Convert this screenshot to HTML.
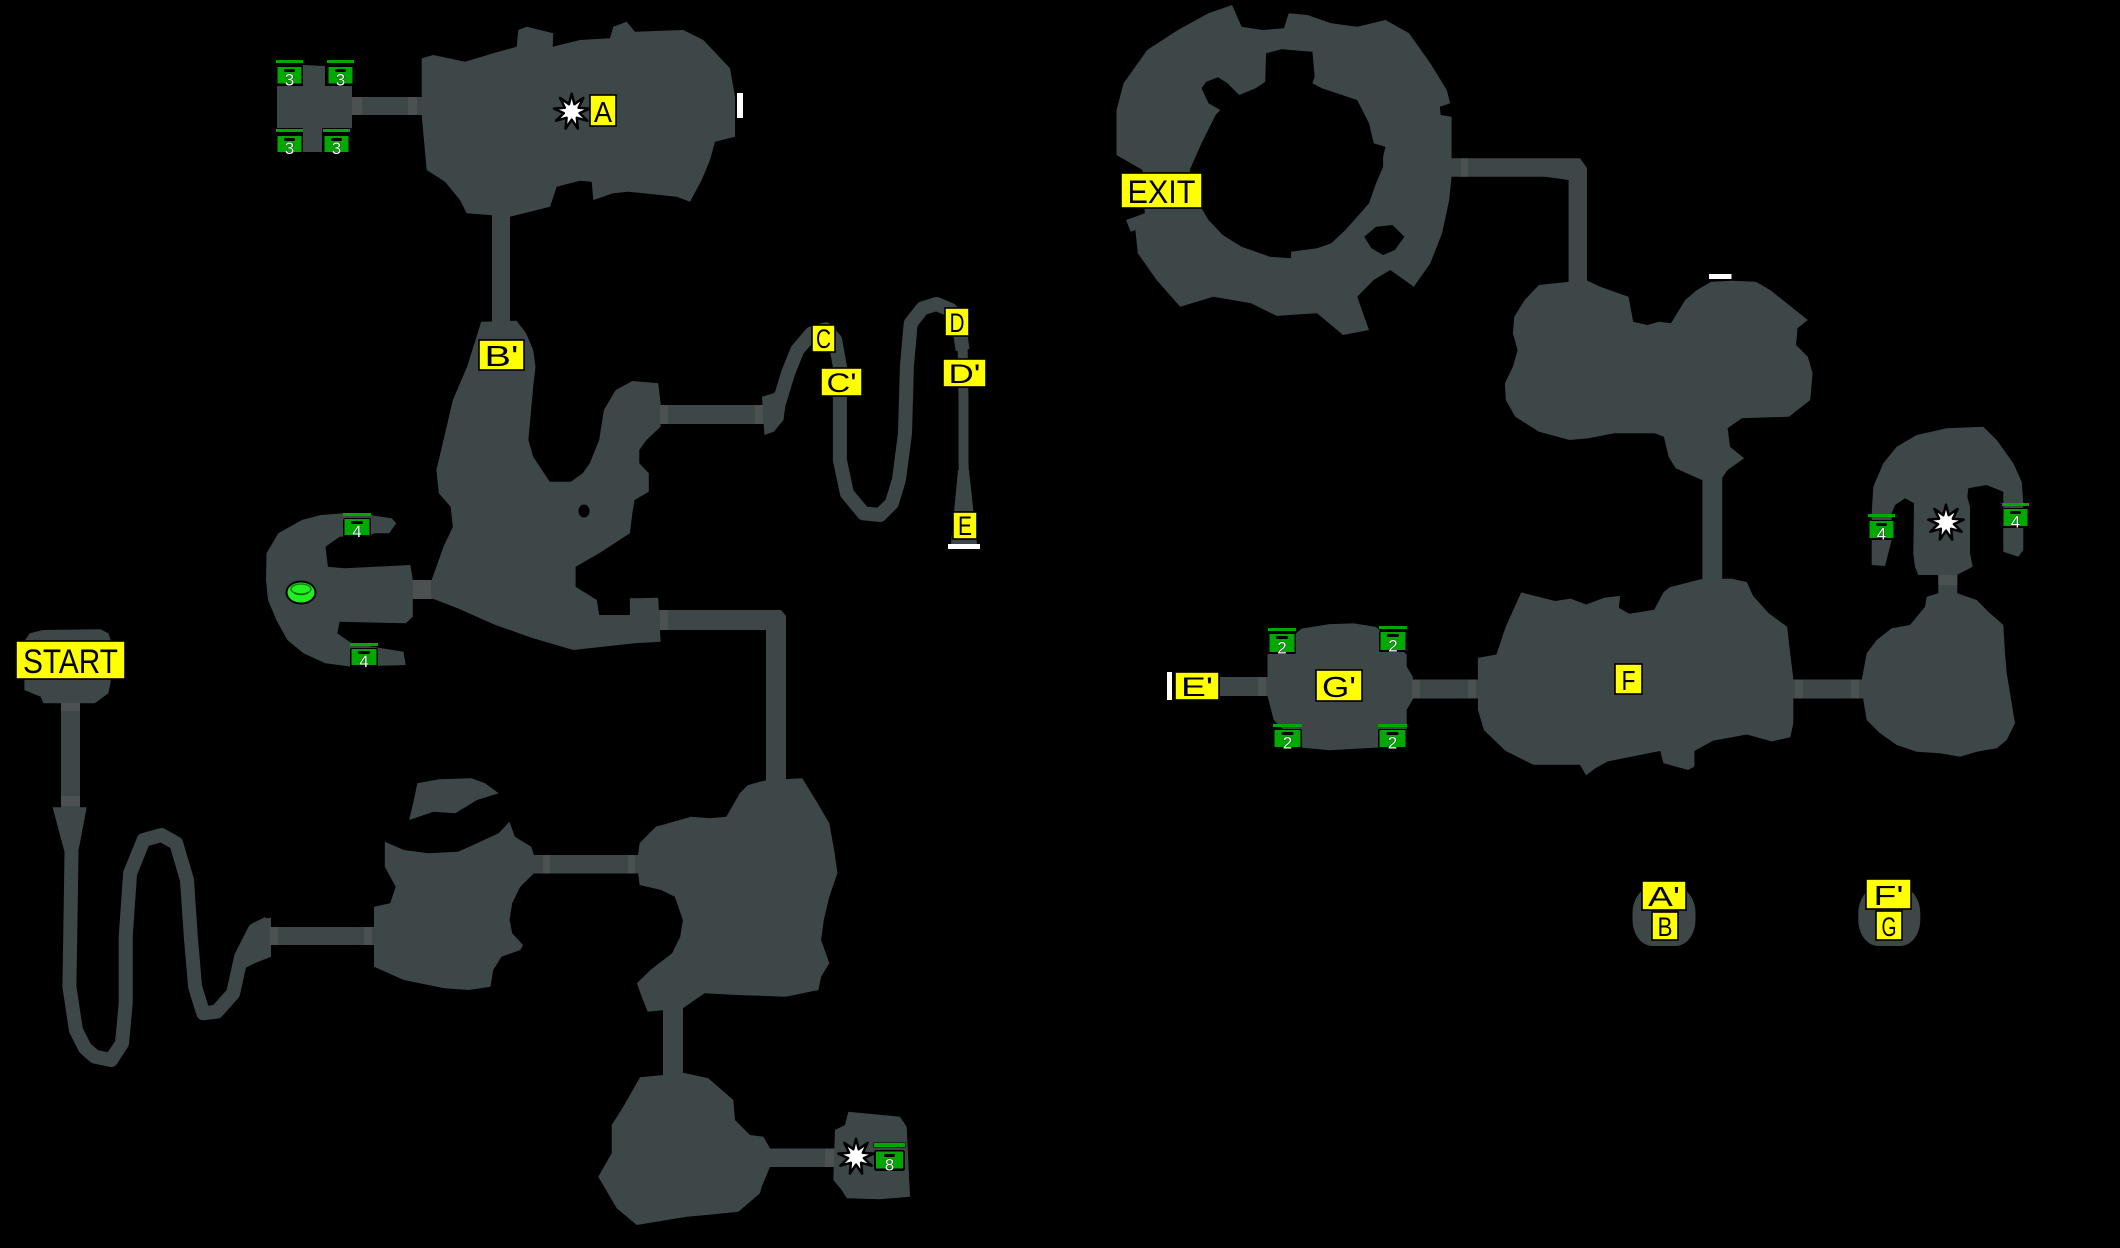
<!DOCTYPE html>
<html><head><meta charset="utf-8"><style>
html,body{margin:0;padding:0;background:#000;}
svg{display:block;}
.c{fill:#3d4747;}
.d{fill:#4b5050;}
.t{fill:none;stroke:#3d4747;stroke-linejoin:round;stroke-linecap:butt;}
.lb{fill:#ffff00;stroke:#000;stroke-width:1.6;}
.lt{font-family:"Liberation Sans",sans-serif;fill:#000;text-anchor:middle;}
</style></head><body>
<svg width="2120" height="1248" viewBox="0 0 2120 1248" xmlns="http://www.w3.org/2000/svg">
<defs>
<polygon id="star" points="0,-18 2.7,-7.5 11.6,-13.8 6.9,-4 17.7,-3.1 7.9,1.4 15.6,9 5.1,6.1 6.2,16.9 0,8 -6.2,16.9 -5.1,6.1 -15.6,9 -7.9,1.4 -17.7,-3.1 -6.9,-4 -11.6,-13.8 -2.7,-7.5" fill="#fff" stroke="#000" stroke-width="2.5" stroke-linejoin="round"/>
</defs>
<rect width="2120" height="1248" fill="#000"/>

<!-- ===== Top-left chest room + Room A ===== -->
<polygon class="c" points="303,65 325,66 325,86 352,86 352,128 322,128 322,152 303,152 303,128 277,128 277,86 303,86"/>
<rect class="c" x="350" y="97" width="74" height="18"/>
<rect class="d" x="352" y="97" width="10" height="18"/>
<rect class="d" x="408" y="97" width="9" height="18"/>
<polygon class="c" points="421.7,58.3 433.3,55 465,61.7 493.3,53.3 516.7,46.7 518.3,30 526.7,26.7 553.3,33.3 552.7,46.7 580,40 610,38.3 613.3,26.7 626.7,21.7 635,31.7 683.3,30 703.3,40 730,68.3 735,96.7 735,136.7 715,141.7 710,160 701.7,180 690,201.7 676.7,196.7 628.3,191.7 613.3,193.3 593.3,200 591.7,181.7 580,180.7 556.7,186.7 550,206.7 510,216.7 466.7,213.3 460,200 445,181.7 426.7,170 423.3,133.3 421.7,115"/>
<rect x="737" y="93" width="6" height="25" fill="#fff"/>
<use href="#star" x="571.7" y="111.7"/>

<!-- A -> B' corridor -->
<rect class="c" x="492" y="212" width="18" height="112"/>

<!-- ===== B' room ===== -->
<polygon class="c" points="481.2,321.7 516.6,320.7 526.1,333.3 533.2,350 535.5,366.7 533.2,386.7 530.8,413.3 528.4,440 533.2,456.7 549.7,481.7 570.9,481.7 582.7,473.3 589.8,463.3 599.2,440 603.9,410 615.7,390 632.3,381 658.2,383.3 660.6,403.3 660.6,426.7 646.4,440 639.3,450 639.3,463.3 648.8,473.3 648.8,491.7 634.6,500 632.3,513.3 629.9,533.3 599.2,553.3 575.6,566.7 575.6,586.7 596.8,600 599.2,615 629.9,615 629.9,598.3 658.2,597.7 660.6,641.7 634.6,643.3 573.3,650 533.2,638.3 495.4,625 457.6,608.3 431.7,598.3 431.7,580 443.5,546.7 452.9,526.7 450.6,506.7 438.8,493.3 436.4,470 443.5,440 452.9,400 467.1,366.7 476.5,336.7"/>
<ellipse cx="584" cy="511" rx="5.5" ry="6.5" fill="#000"/>

<!-- corridor B' -> C -->
<rect class="c" x="658" y="405" width="108" height="19"/>
<rect class="d" x="660" y="405" width="8" height="19"/>
<rect class="d" x="755" y="405" width="8" height="19"/>
<polygon class="c" points="762,396.7 771.4,394 788,386.7 785.7,403.3 783.5,420 773.8,431.7 764.4,435"/>
<!-- C / C' / D tunnel -->
<path class="t" stroke-width="14" d="M773.8,420 L780.9,396.7 L788,373.3 L797.4,350 L811.6,333.3 L825.7,329.3 L835.2,340 L839.9,366.7 L839.9,393.3 L839.9,460 L846.9,493.3 L863.5,513.3 L880,515 L891.8,503.3 L898.9,480 L905,433.3 L906.9,366.7 L910.7,323.3 L922.5,308.3 L936.6,304 L950.8,310 L959.3,326.7 L962.6,350"/>
<path class="t" stroke-width="10" d="M962.6,345 L963.5,400 L963.5,460 L964.5,500"/>
<polygon class="c" points="958,470 969,470 977,544 951,544"/>
<rect x="948" y="544" width="32" height="5" fill="#fff"/>

<!-- B' bottom corridor -->
<polygon class="c" points="658,610 781,610 786,616 786,782 766,782 766,630 658,630"/>
<rect class="d" x="660" y="610" width="8" height="20"/>

<!-- ===== Left room ===== -->
<polygon class="c" points="266.5,553.3 278.3,533.3 301.9,520 320.8,515 344.4,513.3 370.3,515 391.6,518.3 396.3,523.3 389.2,533.3 375.1,533.3 370.3,535 339.7,536.7 325.5,546.7 327.9,566.7 344.4,568.3 410.4,565 412.8,580 412.8,616.7 405.7,623.3 339.7,621.7 337.3,633.3 351.5,643.3 403.4,651.7 405.7,665 352,666.7 325.2,663.3 303.5,653.3 287.3,640 276.4,620 268,600 266,580"/>
<rect class="c" x="411" y="580" width="22" height="19"/>
<rect class="d" x="413" y="580" width="18" height="19"/>
<!-- ring -->
<ellipse cx="301" cy="592.5" rx="15.5" ry="12" fill="#000"/>
<ellipse cx="301" cy="592.5" rx="13.5" ry="10" fill="#22ee22"/>
<ellipse cx="301" cy="589" rx="10" ry="5" fill="none" stroke="#0a8a0a" stroke-width="1.5"/>
<path d="M294,593 Q301,596 308,593" fill="none" stroke="#0a6a0a" stroke-width="1.5"/>

<!-- ===== START ===== -->
<polygon class="c" points="29.8,633.3 43,630 100.3,629.3 108.4,633.3 111,641 111.1,679.3 108.4,693.3 94.9,703.3 43.4,703.3 40.7,696.7 24.4,690 24.4,679 24.4,641"/>
<rect class="c" x="61" y="701" width="19" height="108"/>
<rect class="d" x="61" y="703" width="19" height="8"/>
<rect class="d" x="61" y="796" width="19" height="10"/>
<polygon class="c" points="52.6,807.3 86.7,807.3 78.6,850 64,850"/>
<path class="t" stroke-width="14" d="M71,846 L71.5,853.3 L70.5,920 L69.4,986.7 L75.9,1030 L85,1048 L94.9,1056.7 L111.1,1060 L122,1043.3 L125.7,1003.3 L125.7,936.7 L130.1,873.3 L143.6,840 L161.5,835 L176.2,843.3 L187,880 L190.8,936.7 L195.1,986.7 L203.3,1013.3 L216.8,1011.7 L233.1,993.3 L241.2,956.7 L254.7,930 L268.3,923.3"/>
<polygon class="c" points="238.5,953.3 249.3,930 265.6,918.3 271,917.7 271,956.7 254.7,963.3 241.2,970"/>
<rect class="c" x="270" y="927" width="106" height="18"/>
<rect class="d" x="270" y="927" width="8" height="18"/>
<rect class="d" x="364" y="927" width="8" height="18"/>

<!-- mid room -->
<polygon class="c" points="384.8,841.7 403.8,850 428.2,853.3 458,851.7 477,843.3 498.6,833.3 509.5,821.7 514.9,836.7 531.2,846.7 533.9,855 533.9,873.3 520.3,886.7 512.2,903.3 509.5,920 512.2,933.3 523,945 520.3,950 501.4,956.7 493.2,970 490.5,986.7 468.8,990 444.4,988.3 403.8,980 374,966.7 374,906.7 390.2,903.3 395.7,886.7 384.8,866.7"/>
<polygon class="c" points="417.3,783.3 439,779.3 471.5,778.3 485.1,783.3 498.6,793.3 477,800 455.3,813.3 433.6,811.7 409.2,820 414.6,796.7"/>
<rect class="c" x="532" y="855" width="107" height="18.5"/>
<rect class="d" x="543" y="855" width="7" height="18.5"/>
<rect class="d" x="628" y="855" width="7" height="18.5"/>

<!-- big room -->
<polygon class="c" points="639.6,843.3 655.8,826.7 691.1,816.7 710,818.3 726.3,816.7 739.8,793.3 748,785 767,780 802.2,778.3 815.7,800 829.3,823.3 834.7,853.3 837.4,873.3 829.3,896.7 823.8,920 821.1,940 829.3,963.3 821.1,976.7 818.4,990 785.9,996.7 737.1,995 704.6,993.3 682.9,1008.3 647.7,1011.7 642.3,998.3 636.9,983.3 650.4,970 672.1,953.3 680.2,936.7 682.9,920 674.8,896.7 661.2,890 639.6,885 636.9,863.3"/>
<rect class="c" x="663" y="1005" width="20" height="75"/>

<!-- bottom room -->
<polygon class="c" points="640,1077.3 663.3,1075 683.3,1072.7 708.3,1078.3 733.3,1100 735,1120 750,1135 763.3,1136.7 770,1148.3 770,1166.7 761.7,1186.7 760,1193.3 738.3,1211.7 706.7,1215 686.7,1216.7 636.7,1225 616.7,1208.3 598.3,1176.7 611.7,1153.3 611.7,1125 623.3,1106.7"/>
<rect class="c" x="768" y="1148.5" width="70" height="18.5"/>
<rect class="d" x="825" y="1148.5" width="10" height="18.5"/>
<polygon class="c" points="848.3,1111.7 900,1116.7 906.7,1126.7 908.3,1160 910,1196.7 880,1199.3 846.7,1198.3 841.7,1190 833.3,1180 835,1130 845,1125"/>
<use href="#star" x="856" y="1156.7"/>

<!-- ===== EXIT ring ===== -->
<path class="c" fill-rule="evenodd" d="M1116.5,110 L1123.6,83.3 L1147.2,50 L1177.9,30 L1208.5,13.3 L1232.1,5 L1241.6,26.7 L1262.8,30 L1284,28.3 L1288.8,13.3 L1307.6,15 L1331.2,23.3 L1357.2,26.7 L1385.5,20 L1409.1,33.3 L1430.3,63.3 L1446.8,90 L1450.1,103.3 L1439.8,106.7 L1440.7,115 L1451.6,116.7 L1451.6,156.7 L1451.6,176.7 L1449.2,200 L1442.1,233.3 L1430.3,263.3 L1413.8,286.7 L1390.2,270 L1373.7,280 L1357.2,296.7 L1369,330 L1343,335 L1317.1,313.3 L1288.8,315 L1277,316 L1251,303.3 L1213.3,296.7 L1180.2,306.7 L1156.6,280 L1137.8,253.3 L1135.4,230 L1130.7,231.7 L1126,220 L1144.8,213.3 L1142.5,170 L1116.5,155 Z
M1189.7,170 L1201.5,143.3 L1215.6,115 L1220.3,110 L1208.5,103.3 L1201.5,88.3 L1206.2,81.7 L1218,77.3 L1227.4,83.3 L1239.2,95 L1255.7,88.3 L1265.2,81.7 L1266.1,53.3 L1281.7,49.3 L1312.4,51.7 L1314.7,76.7 L1312.4,83.3 L1321.8,88.3 L1357.2,100 L1369,123.3 L1373.7,143.3 L1385.5,146.7 L1383.1,156.7 L1383.1,166.7 L1376.1,183.3 L1369,203.3 L1357.2,216.7 L1345.4,230 L1331.2,243.3 L1317.1,248.3 L1291.1,251.7 L1291.1,258.3 L1269.9,256.7 L1241.6,246.7 L1222.7,235 L1208.5,220 L1201.5,208.3 L1196.7,193.3 L1192,180 Z
M1364.3,236.7 L1376.1,226.7 L1392.6,225 L1404.4,236.7 L1394.9,250 L1383.1,255 L1371.3,248.3 Z"/>
<polygon class="c" points="1449,158.3 1580,158.3 1587,168 1587,284 1568.6,284 1568.6,180 1545,176.7 1449,176.7"/>
<rect class="d" x="1461" y="158.3" width="7" height="18.4"/>

<!-- top right room -->
<polygon class="c" points="1538.9,285 1569.5,281.7 1586,280 1600.2,286.7 1628.5,296.7 1633.2,321.7 1647.4,325 1659.2,321.7 1671,323.3 1685.2,300 1697,290 1711.1,281.7 1732.3,280.7 1755.9,281.7 1770.1,290 1807.8,320 1797.5,328.3 1796,345 1807.8,356.7 1812.6,373.3 1810.2,400 1789,416.7 1741.8,418.3 1727.6,428.3 1730,446.7 1744.1,458.3 1727.6,470 1720.6,480 1701.7,480 1675.7,468.3 1668.6,456.7 1663.9,436.7 1654.5,433.3 1614.4,433.3 1588.4,438.3 1569.5,440 1557.7,436.7 1538.9,431.7 1515.3,416.7 1505.8,400 1504.9,383.3 1512.9,366.7 1517.6,350 1512.9,333.3 1514.3,316.7 1524.7,300"/>
<rect x="1709" y="274" width="22.5" height="5" fill="#fff"/>
<rect class="c" x="1702.4" y="476" width="19.8" height="106"/>

<!-- F room -->
<polygon class="c" points="1521.2,592.4 1555.2,601 1570.6,598.6 1586.1,604.5 1604.7,597.6 1620.1,595.9 1618.9,607.9 1629.4,613.8 1654.2,609.7 1663.4,592.4 1669.6,587.2 1700.6,579.3 1731.5,578.6 1746.9,582.1 1753.1,595.9 1768.6,613.1 1787.2,626.9 1790.3,654.5 1793.3,678.6 1793.3,699.3 1793.3,723.4 1790.3,737.2 1771.7,741.4 1746.9,734.5 1712.9,740.7 1694.4,751 1694.4,766.5 1688.2,770 1663.4,763.1 1660.3,751 1638.7,755.2 1607.8,761.4 1595.4,768.3 1586.1,775.2 1579.9,764.8 1533.5,764.8 1505.7,751 1484,730.3 1477.9,709.7 1477.9,678.6 1477.9,657.9 1496.4,654.5 1505.7,626.9"/>

<!-- G' room + corridors -->
<rect class="c" x="1218" y="677" width="52" height="19"/>
<rect class="d" x="1258" y="677" width="8" height="19"/>
<polygon class="c" points="1301.6,628.6 1329.4,624.1 1354.1,623.4 1375.8,626.9 1406.7,654.5 1406.7,666.6 1412.9,676.9 1412.9,699.3 1406.7,709.7 1406.7,720 1406.7,749.3 1375.8,747.6 1329.4,750.3 1301.6,747.6 1273.7,720 1267.5,695.9 1267.5,675.2 1267.5,654.5 1295.4,633.8"/>
<rect class="c" x="1410" y="679.5" width="70" height="19"/>
<rect class="d" x="1412" y="679.5" width="8" height="19"/>
<rect class="d" x="1468" y="679.5" width="8" height="19"/>
<rect class="c" x="1791" y="679.5" width="72" height="19"/>
<rect class="d" x="1795" y="679.5" width="8" height="19"/>
<rect class="d" x="1851" y="679.5" width="8" height="19"/>

<!-- right rooms -->
<polygon class="c" points="1871.7,513.3 1873.3,486.7 1883.3,463.3 1896.7,446.7 1916.7,435 1946.7,428.3 1983.3,426.7 1996.7,440 2013.3,463.3 2021.7,481.7 2023.3,503.3 2023.3,550 2018.3,556.7 2003.3,551.7 2003.3,491.7 1986.7,485 1976.7,486.7 1968.3,488.3 1967.3,496.7 1970,506.7 1970,553.3 1972.7,566.7 1956.7,575 1938.3,575 1918.3,575 1915,566.7 1913.3,553.3 1914,503.3 1905,498.3 1895,505 1891.7,513.3 1891.7,540 1885,566 1871.7,565 1871.7,540"/>
<rect class="c" x="1938.3" y="573" width="19" height="24"/>
<rect class="d" x="1938.3" y="575" width="19" height="10"/>
<polygon class="c" points="1926.7,596.7 1938.3,593.3 1957.3,593.3 1976.7,600 1988.3,611.7 2003.3,625 2005,653.3 2006.7,673.3 2015,723.3 2006.7,740 1996.7,748.3 1976.7,751.7 1960,756.7 1940,753.3 1916.7,751.7 1896.7,745 1880,733.3 1866.7,720 1863.3,700 1861.7,680 1866.7,653.3 1876.7,640 1891.7,628.3 1910,625 1925,606.7"/>
<use href="#star" x="1946" y="522.7"/>

<!-- pods -->
<rect class="c" x="1632.5" y="887" width="63" height="59" rx="20" ry="26"/>
<rect class="c" x="1858.3" y="887" width="62" height="59" rx="20" ry="26"/>

<!-- ===== Chests ===== -->
<g font-family="Liberation Sans, sans-serif" font-size="17" fill="#fff" text-anchor="middle" stroke="#000" stroke-width="0.6" paint-order="stroke">
<!-- 3s -->
<rect x="276" y="60" width="27" height="3" fill="#00a800" stroke="none"/><rect x="276" y="66" width="27" height="20" rx="2" fill="#000" stroke="none"/><rect x="277.5" y="67" width="24" height="16.5" fill="#00a800" stroke="none"/><rect x="284" y="69" width="11" height="3" rx="1.5" fill="#000" stroke="none"/><text x="289.5" y="85.5">3</text>
<rect x="327" y="60" width="27" height="3" fill="#00a800" stroke="none"/><rect x="327" y="66" width="27" height="20" rx="2" fill="#000" stroke="none"/><rect x="328.5" y="67" width="24" height="16.5" fill="#00a800" stroke="none"/><rect x="335" y="69" width="11" height="3" rx="1.5" fill="#000" stroke="none"/><text x="340.5" y="85.5">3</text>
<rect x="276" y="129" width="27" height="3" fill="#00a800" stroke="none"/><rect x="276" y="135" width="27" height="19" rx="2" fill="#000" stroke="none"/><rect x="277.5" y="136" width="24" height="16" fill="#00a800" stroke="none"/><rect x="284" y="138" width="11" height="3" rx="1.5" fill="#000" stroke="none"/><text x="289.5" y="154">3</text>
<rect x="323" y="129" width="27" height="3" fill="#00a800" stroke="none"/><rect x="323" y="135" width="27" height="19" rx="2" fill="#000" stroke="none"/><rect x="324.5" y="136" width="24" height="16" fill="#00a800" stroke="none"/><rect x="331" y="138" width="11" height="3" rx="1.5" fill="#000" stroke="none"/><text x="336.5" y="154">3</text>
<!-- left room 4s -->
<rect x="343" y="513" width="28" height="3" fill="#00a800" stroke="none"/><rect x="343" y="518" width="28" height="19" rx="2" fill="#000" stroke="none"/><rect x="344.5" y="519" width="25" height="16" fill="#00a800" stroke="none"/><rect x="351" y="521" width="12" height="3" rx="1.5" fill="#000" stroke="none"/><text x="357" y="537">4</text>
<rect x="350" y="643" width="28" height="3" fill="#00a800" stroke="none"/><rect x="350" y="648" width="28" height="19" rx="2" fill="#000" stroke="none"/><rect x="351.5" y="649" width="25" height="16" fill="#00a800" stroke="none"/><rect x="358" y="651" width="12" height="3" rx="1.5" fill="#000" stroke="none"/><text x="364" y="667">4</text>
<!-- 8 -->
<rect x="874" y="1143" width="31" height="4" fill="#00a800" stroke="#000" stroke-width="1"/><rect x="874" y="1150" width="31" height="21" rx="2.5" fill="#000" stroke="none"/><rect x="876" y="1151.5" width="27" height="17" fill="#00a800" stroke="none"/><rect x="884" y="1154" width="11" height="3" rx="1.5" fill="#000" stroke="none"/><text x="889.5" y="1170.5">8</text>
<!-- G' 2s -->
<rect x="1268" y="628" width="28" height="3" fill="#00a800" stroke="none"/><rect x="1268" y="633" width="28" height="21" rx="2" fill="#000" stroke="none"/><rect x="1269.5" y="634" width="25" height="18" fill="#00a800" stroke="none"/><rect x="1276" y="636" width="12" height="3" rx="1.5" fill="#000" stroke="none"/><text x="1282" y="653.5">2</text>
<rect x="1379" y="626" width="28" height="3" fill="#00a800" stroke="none"/><rect x="1379" y="631" width="28" height="21" rx="2" fill="#000" stroke="none"/><rect x="1380.5" y="632" width="25" height="18" fill="#00a800" stroke="none"/><rect x="1387" y="634" width="12" height="3" rx="1.5" fill="#000" stroke="none"/><text x="1393" y="651.5">2</text>
<rect x="1273" y="724" width="29" height="3" fill="#00a800" stroke="none"/><rect x="1273" y="729" width="29" height="20" rx="2" fill="#000" stroke="none"/><rect x="1274.5" y="730" width="26" height="17" fill="#00a800" stroke="none"/><rect x="1281.5" y="732" width="12" height="3" rx="1.5" fill="#000" stroke="none"/><text x="1287.5" y="748.5">2</text>
<rect x="1378" y="724" width="29" height="3" fill="#00a800" stroke="none"/><rect x="1378" y="729" width="29" height="20" rx="2" fill="#000" stroke="none"/><rect x="1379.5" y="730" width="26" height="17" fill="#00a800" stroke="none"/><rect x="1386.5" y="732" width="12" height="3" rx="1.5" fill="#000" stroke="none"/><text x="1392.5" y="748.5">2</text>
<!-- right room 4s -->
<rect x="1868" y="514" width="27" height="3" fill="#00a800" stroke="none"/><rect x="1868" y="520" width="27" height="20" rx="2" fill="#000" stroke="none"/><rect x="1869.5" y="521" width="24" height="17" fill="#00a800" stroke="none"/><rect x="1876" y="523" width="11" height="3" rx="1.5" fill="#000" stroke="none"/><text x="1881.5" y="539.5">4</text>
<rect x="2002" y="503" width="27" height="3" fill="#00a800" stroke="none"/><rect x="2002" y="508" width="27" height="20" rx="2" fill="#000" stroke="none"/><rect x="2003.5" y="509" width="24" height="17" fill="#00a800" stroke="none"/><rect x="2010" y="511" width="11" height="3" rx="1.5" fill="#000" stroke="none"/><text x="2015.5" y="527.5">4</text>
</g>

<!-- ===== Labels ===== -->
<rect class="lb" x="590" y="95" width="26" height="31"/><text class="lt" x="603" y="122" font-size="29" textLength="18" lengthAdjust="spacingAndGlyphs">A</text>
<rect class="lb" x="479" y="340" width="45" height="30"/><text class="lt" x="501.5" y="366" font-size="29" textLength="34" lengthAdjust="spacingAndGlyphs">B'</text>
<rect class="lb" x="812" y="325" width="23" height="27"/><text class="lt" x="823.5" y="348" font-size="27" textLength="15" lengthAdjust="spacingAndGlyphs">C</text>
<rect class="lb" x="821" y="368" width="41" height="28"/><text class="lt" x="841.5" y="392" font-size="27" textLength="30" lengthAdjust="spacingAndGlyphs">C'</text>
<rect class="lb" x="945" y="308" width="24" height="28"/><text class="lt" x="957" y="332" font-size="27" textLength="15" lengthAdjust="spacingAndGlyphs">D</text>
<rect class="lb" x="943" y="359" width="43" height="28"/><text class="lt" x="964.5" y="383" font-size="27" textLength="32" lengthAdjust="spacingAndGlyphs">D'</text>
<rect class="lb" x="953" y="512" width="24" height="27"/><text class="lt" x="965" y="535" font-size="27" textLength="14" lengthAdjust="spacingAndGlyphs">E</text>
<rect class="lb" x="16" y="641" width="109" height="38"/><text class="lt" x="70.5" y="673" font-size="34" textLength="95" lengthAdjust="spacingAndGlyphs">START</text>
<rect class="lb" x="1121" y="173" width="81" height="35"/><text class="lt" x="1161.5" y="203" font-size="32" textLength="68" lengthAdjust="spacingAndGlyphs">EXIT</text>
<rect x="1167" y="672" width="5" height="28" fill="#fff"/>
<rect class="lb" x="1175" y="672" width="44" height="28"/><text class="lt" x="1197" y="696" font-size="27" textLength="32" lengthAdjust="spacingAndGlyphs">E'</text>
<rect class="lb" x="1316" y="670" width="46" height="31"/><text class="lt" x="1339" y="697" font-size="29" textLength="34" lengthAdjust="spacingAndGlyphs">G'</text>
<rect class="lb" x="1615" y="664" width="27" height="30"/><text class="lt" x="1628.5" y="690" font-size="28" textLength="14" lengthAdjust="spacingAndGlyphs">F</text>
<rect class="lb" x="1642" y="881" width="44" height="29"/><text class="lt" x="1664" y="906" font-size="28" textLength="32" lengthAdjust="spacingAndGlyphs">A'</text>
<rect class="lb" x="1652" y="912" width="26" height="28"/><text class="lt" x="1665" y="936" font-size="27" textLength="15" lengthAdjust="spacingAndGlyphs">B</text>
<rect class="lb" x="1866" y="879" width="45" height="30"/><text class="lt" x="1888.5" y="905" font-size="28" textLength="30" lengthAdjust="spacingAndGlyphs">F'</text>
<rect class="lb" x="1876" y="911" width="26" height="29"/><text class="lt" x="1889" y="936" font-size="27" textLength="15" lengthAdjust="spacingAndGlyphs">G</text>
</svg>
</body></html>
